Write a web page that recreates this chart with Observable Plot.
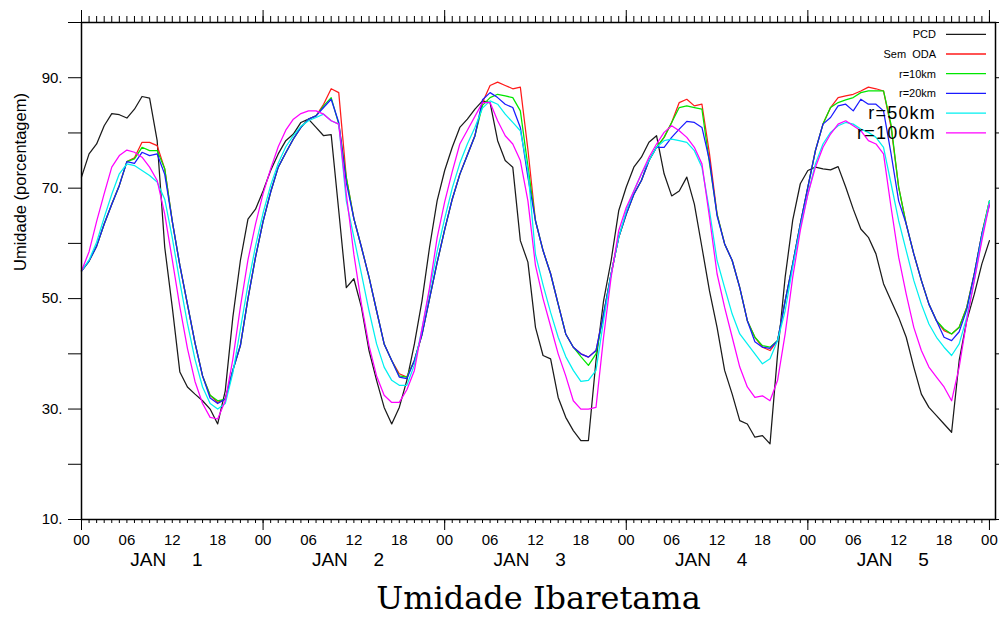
<!DOCTYPE html>
<html>
<head>
<meta charset="utf-8">
<script src="https://cdn.jsdelivr.net/npm/d3@7"></script>
<script src="https://cdn.jsdelivr.net/npm/@observablehq/plot@0.6"></script>
<style>
  html, body { margin: 0; padding: 0; background: #fff; }
  #chart { width: 999px; height: 623px; }
  svg { display: block; }
</style>
</head>
<body>
<div id="chart"></div>
<script>
// Hourly values, 00 JAN 1 to 00 JAN 6 (121 points)
const pcd = [72,76.2,78,81.3,83.5,83.3,82.7,84.3,86.6,86.3,78.6,59.3,48.4,36.7,34,32.7,31.5,30,27.3,33.3,46.6,56.9,64.4,66.2,69.5,73.2,76.2,78.6,79.8,81.9,
  82.5,81,79.5,79.7,65.9,52,53.6,48.4,40.6,35.2,30.3,27.3,30.3,35.2,41.8,49.6,59.3,67.7,73.2,77.4,81,82.5,84.3,85.8,85.5,78.6,75,73.8,60.5,56.6,
  44.8,39.7,39.1,32.1,28.5,26.1,24.3,24.3,38.8,49.6,56.9,65.9,70.2,73.8,75.6,78.3,79.5,72.6,68.6,69.5,72,67.1,59.3,51.4,44.8,37,32.7,27.9,27.3,24.9,
  25.2,23.7,40,53.9,64.2,70.8,73.2,73.8,73.5,73.3,73.9,70.2,66.2,62.6,61.1,58.1,52.7,49.6,46.6,43,37.6,32.7,30.3,28.8,27.3,25.8,38.8,46,50.8,56.3,60.5];

const semODA = [55,56.8,59.5,63.5,67.1,70.5,74.8,75.5,78.3,78.3,77.7,73.5,64,56,49,42,36,32.5,31.2,31.8,37,41.5,50,57.5,64,69.3,73.8,76.4,78.9,81,
  82.5,83.1,85.2,88,87.3,71.9,64.5,59.3,53.9,47.8,41.8,38.8,36.4,35.8,38.8,43.5,50,56.5,62.5,68,72.5,76,79.5,85.5,88.6,89.2,88.6,88,88.3,77,
  64.1,58.7,54.5,49,43.6,41.2,40,39.4,40.6,47.2,54.5,61.1,65.3,68.9,71.4,75,77.4,79.2,81.9,85.5,86.1,84.9,85.2,76.2,65.3,59.9,56.9,52,46,43,
  41.2,40.6,42.4,49.6,56.3,63.5,70.2,76.8,81.6,84.6,86.4,86.7,87,87.6,88.3,88,87.6,81,70.2,63.5,58.1,53.3,49,46,44.2,43.6,44.8,48.4,54.5,61.7,67.7];

const r10 = [55,56.8,59.5,63.5,67.1,70.5,74.8,75.3,77.4,76.8,76.8,73.5,64,56,49,42,36,32.5,31.5,31.8,37,41.5,50,57.5,64,69.3,73.8,76.4,78.9,81,
  82.5,83.1,84.9,86.4,81.6,71.9,64.5,59.3,53.9,47.8,41.8,38.8,36,35.8,38.8,43.5,50,56.5,62.5,68,72.5,76,79.5,85,86.4,87,86.7,86.4,84,74,
  64.1,58.7,54.5,49,43.6,41.2,39.5,37.9,40,47.2,54.5,61.1,65.3,68.9,71.4,75,77.4,79.2,81.9,84.6,84.9,84.6,84.3,74.5,65.3,59.9,56.9,52,46,43,
  41.5,41.2,42.4,49.6,56.3,63.5,70.2,76.8,81.6,84.6,85.5,86,86.4,87.3,87.6,87.6,87.6,81.5,70.2,63.5,58.1,53.3,49,46,44.5,43.6,44.8,48.4,54.5,61.7,67.7];

const r20 = [55,56.8,59.5,63.5,67.1,70.5,74.8,74.5,76.5,75.9,76.2,72.5,64,56,49,42,36,32,31,31.8,37,41.5,50,57.5,64,69.3,73.8,76.4,78.9,81,
  82.5,83.1,84.6,86.1,81.9,71,64.5,59.3,53.9,47.8,41.8,38.8,35.8,35.5,38.8,43.5,50,56.5,62.5,68,72.5,76,79.5,86,87.3,86.4,85.2,84.6,81,72,
  64.1,58.7,54.5,49,43.6,41.2,40,39.4,40.6,47.2,54.5,61.1,65.3,68.9,71.4,75,77.4,77.4,79.2,80.7,82.1,81.9,81,75,65,59.9,56.9,52,46,42.2,
  41.2,41,42.4,49.6,56.3,63.5,70.2,76.8,81.6,82.8,84.9,85.2,84,86.1,85.2,85.2,84,76.2,67.7,63.5,58.1,53.3,49,46,43,42.4,44,48,54.5,61.7,67];

const r50 = [55,57,60.2,64.7,68.9,72.6,74.4,74.1,73.2,72.3,71.1,68,61,53,45.5,39,34,31,30,31,36.5,44.5,52.5,59.5,65.5,70.5,74.5,77.5,79.5,81.2,
  82.2,82.8,83.4,82.2,81.6,67.7,61.1,54.5,47.8,41.8,37.6,35.2,34.3,34.3,38,44.5,51.5,58.5,64.5,70,74.5,78,81,84.5,85.8,85.2,83.4,81.9,80.4,73.2,
  58,52.5,47.5,43,39.5,37,35,35.2,37,46,54.5,61.1,65.9,69.5,72.6,75,77.4,78.6,78.9,78.6,78.3,76.8,73.8,65.9,56.9,52,47.2,43.6,41.8,40,
  38.2,39.1,42.4,47.8,55.7,62.9,68.9,74.4,78,80.1,81.3,81.9,81.6,80.7,80.1,79.2,77.4,70.8,64.1,58.7,53.3,49,45.4,43,41.2,39.7,41.8,46.6,53.3,61.1,67.7];

const r100 = [55,58.5,64,69,73.8,75.9,76.9,76.5,75.6,73.8,71.4,65.3,57,48.5,41,35,31,28.5,28.2,31.5,39,48.5,57,63.5,69,73.5,77.5,80.5,82.5,83.5,
  84,84,83.4,82.2,81.6,68.9,58,49,41.5,36,32.5,31.2,31.2,33.5,37,44.5,52,61,67.5,73,78,80.5,83,85.5,85.5,82.2,79.5,78,75,67.7,
  56,50,45,40,36,31.5,30,30,30.3,43,53.9,62.3,66.5,69.5,72.6,75.6,78,80.1,81.3,80.4,79.2,77.4,74.4,64.7,54.5,48.4,43,37.6,34,32.1,
  32.4,31.5,35.2,43.6,53.9,62.3,68.9,73.8,77.4,79.8,81.6,82.2,81.3,80.4,78.6,78,76.2,66.5,57.5,50.8,44.8,40.6,37.6,35.8,34,31.5,37.6,46,53.3,60.5,67.1];

const seriesNames = ["PCD", "Sem  ODA", "r=10km", "r=20km", "r=50km", "r=100km"];
const seriesValues = [pcd, semODA, r10, r20, r50, r100];
const seriesColors = ["#1a1a1a", "#ff1a1a", "#00e600", "#1a1aff", "#00f0f0", "#ff00ff"];
const legendFont = [11, 11, 11, 11, 18, 18];
const legendSpacing = [0, 0, 0, 0, 1.2, 1.2];

const hourTicks = d3.range(0, 121, 1);
const dayTicks = [0, 24, 48, 72, 96, 120];
const hourLabelTicks = d3.range(0, 121, 6);
const yTicks = [10, 20, 30, 40, 50, 60, 70, 80, 90, 100];
const yLabelTicks = [10, 30, 50, 70, 90];
const dayNoons = [12, 36, 60, 84, 108];
const dayNumbers = ["1", "2", "3", "4", "5"];

const font = "'Liberation Sans', Arial, sans-serif";

const lineMarks = seriesValues.map((vals, k) =>
  Plot.lineY(vals.map((v, i) => ({hour: i, value: v})), {
    x: "hour", y: "value", stroke: seriesColors[k], strokeWidth: 1.25, strokeLinejoin: "round"
  })
);

const chart = Plot.plot({
  width: 999,
  height: 623,
  marginLeft: 81,
  marginRight: 4,
  marginTop: 22,
  marginBottom: 104,
  style: {fontFamily: font, background: "#fff", color: "#000"},
  x: {domain: [0, 120.8], label: null},
  y: {domain: [10, 100], label: null},
  marks: [
    Plot.axisX({anchor: "bottom", ticks: hourTicks, tickSize: 4, fill: "none", label: null, strokeWidth: 1}),
    Plot.axisX({anchor: "bottom", ticks: dayTicks, tickSize: 11, fill: "none", label: null, strokeWidth: 1}),
    Plot.axisX({anchor: "top", ticks: hourTicks, tickSize: 7, fill: "none", label: null, strokeWidth: 1}),
    Plot.axisX({anchor: "top", ticks: dayTicks, tickSize: 13, fill: "none", label: null, strokeWidth: 1}),
    Plot.axisY({anchor: "left", ticks: yTicks, tickSize: 13, fill: "none", label: null, strokeWidth: 1}),
    Plot.axisY({anchor: "right", ticks: yTicks, tickSize: 13, fill: "none", label: null, strokeWidth: 1}),
    Plot.axisX({anchor: "bottom", ticks: hourLabelTicks, tickSize: 0, tickPadding: 15, fontSize: 15,
      tickFormat: h => String(h % 24).padStart(2, "0"), label: null}),
    Plot.axisY({anchor: "left", ticks: yLabelTicks, tickSize: 0, tickPadding: 19, fontSize: 15,
      tickFormat: d => d + ".", label: null}),
    Plot.text(dayNoons, {x: d => d, frameAnchor: "bottom", dy: 46, dx: -24, text: () => "JAN", fontSize: 19}),
    Plot.text(dayNoons, {x: d => d, frameAnchor: "bottom", dy: 46, dx: 25, text: (d, i) => dayNumbers[i], fontSize: 19}),
    Plot.text(["Umidade (porcentagem)"], {frameAnchor: "left", rotate: -90, dx: -61, fontSize: 16.5}),
    Plot.text(["Umidade Ibaretama"], {frameAnchor: "bottom", dy: 89, fontSize: 32,
      fontFamily: "'DejaVu Serif', serif", text: d => d}),
    ...lineMarks,
    Plot.frame({stroke: "#000", strokeWidth: 1.5})
  ]
});

// legend (top-right, inside plot)
const svg = d3.select(chart);
const lg = svg.append("g").attr("class", "legend");
seriesNames.forEach((name, i) => {
  const y = 34.3 + i * 19.7;
  lg.append("text").attr("x", 936).attr("y", y).attr("dy", "0.35em")
    .attr("text-anchor", "end").attr("font-size", legendFont[i])
    .attr("letter-spacing", legendSpacing[i])
    .attr("font-family", font).attr("fill", "#000")
    .style("white-space", "pre").text(name);
  lg.append("line").attr("x1", 946).attr("x2", 986).attr("y1", y).attr("y2", y)
    .attr("stroke", seriesColors[i]).attr("stroke-width", 1.3);
});

document.getElementById("chart").appendChild(chart);
</script>
</body>
</html>
